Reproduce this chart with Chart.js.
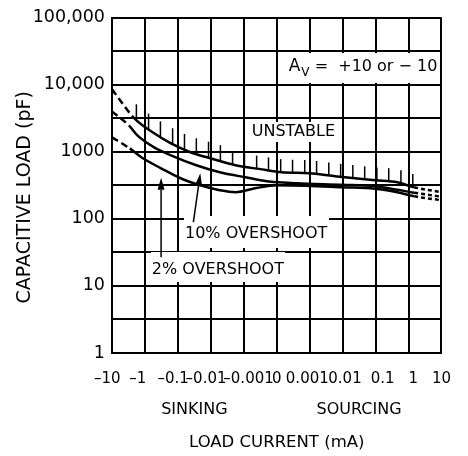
<!DOCTYPE html>
<html>
<head>
<meta charset="utf-8">
<script src="https://cdn.jsdelivr.net/npm/chart.js@4.4.1/dist/chart.umd.min.js"></script>
<style>
  html, body { margin: 0; padding: 0; background: #fff; }
  #wrap { width: 468px; height: 456px; }
</style>
</head>
<body>
<div id="wrap"><canvas id="chart"></canvas></div>
<script>
// x is in decades on the split log axis: -5 = -10 mA, 0 = 0 mA, +5 = +10 mA
const xTickLabels = ['–10', '–1', '–0.1', '–0.01', '–0.001', '0', '0.001', '0.01', '0.1', '1', '10'];
const sideTicks = [-2.5, 2.5];
const sideLabels = ['SINKING', 'SOURCING'];

// y is capacitive load in pF (log)
const yGridValues = [1, 3.162, 10, 31.62, 100, 316.2, 1000, 3162, 10000, 31620, 100000];
const yTickLabels = { 1: '1', 10: '10', 100: '100', 1000: '1000', 10000: '10,000', 100000: '100,000' };

// UNSTABLE boundary
const unstableX = [-5, -4.32, -3.72, -3.21, -2.62, -2.02, -1.25, -0.45, 0.15, 0.98, 1.99, 2.98, 3.66, 4.17, 5];
const unstableY = [8500, 3140, 1880, 1330, 980, 800, 630, 545, 495, 477, 420, 375, 350, 295, 249];

// 10% overshoot
const over10X = [-5, -4.46, -4.23, -3.72, -3.21, -2.44, -1.73, -0.95, -0.3, 0.6, 1.99, 2.98, 3.66, 4.17, 5];
const over10Y = [3990, 2390, 1750, 1160, 884, 628, 494, 416, 363, 339, 322, 306, 271, 245, 213];

// 2% overshoot
const over2X = [-5, -4.46, -4.11, -3.51, -2.92, -2.32, -1.73, -1.25, -0.66, 0, 0.89, 1.99, 2.98, 3.66, 4.17, 5];
const over2Y = [1640, 1120, 826, 566, 402, 316, 267, 249, 285, 316, 311, 295, 281, 249, 217, 189];

// hatch marks on the unstable side of the boundary
const hatchX = [-4.26, -3.89, -3.53, -3.16, -2.80, -2.44, -2.07, -1.71, -1.34, -0.98, -0.61, -0.25,
                0.12, 0.48, 0.85, 1.21, 1.58, 1.94, 2.31, 2.67, 3.04, 3.40, 3.77, 4.13];

const FONT = 'DejaVu Sans';
const INK = '#000';

// nudge crowded x labels with spaces, like the original run-together text
const xLabelNudge = { '–10': '  ', '–1': '   ', '–0.1': '  ', '–0.01': '  ', '0.001': ' ' };
const xLabelLead = { '–0.001': '  ', '0.01': ' ', '0.1': '   ', '1': '  ' };

function toPts(xs, ys) {
  return xs.map((x, i) => ({ x: x, y: ys[i] }));
}

function curve(label, xs, ys) {
  const last = xs.length - 1;
  return {
    label: label,
    data: toPts(xs, ys),
    borderColor: '#000',
    borderWidth: 2.5,
    pointRadius: 0,
    fill: false,
    cubicInterpolationMode: 'monotone',
    segment: {
      borderDash: ctx => ctx.p0DataIndex === 0 ? [7, 4] : (ctx.p1DataIndex === last ? [4, 3] : undefined)
    }
  };
}

// annotation boxes, in data units
const boxes = [
  { x0: 0, x1: 5, y0: 10000, y1: 31620 },
  { x0: -0.95, x1: 1.96, y0: 1288, y1: 2933 },
  { x0: -2.89, x1: 1.64, y0: 34.1, y1: 117 },
  { x0: -3.87, x1: 0.30, y0: 10.6, y1: 34.1 }
];
const boxText = [
  { box: 1, text: 'UNSTABLE', dy: 0 },
  { box: 2, text: '10% OVERSHOOT', dy: 2 },
  { box: 3, text: '2% OVERSHOOT', dy: 3 }
];
const arrows = [
  { from: [-2.53, 89], to: [-2.32, 477] },
  { from: [-3.51, 26.8], to: [-3.51, 410] }
];

function bez(p0, p1, p2, p3, t) {
  const u = 1 - t;
  return u * u * u * p0 + 3 * u * u * t * p1 + 3 * u * t * t * p2 + t * t * t * p3;
}

function curveYAt(points, x) {
  for (let i = 0; i < points.length - 1; i++) {
    const a = points[i], b = points[i + 1];
    if (x >= a.x && x <= b.x) {
      if (a.cp2x === undefined) return a.y + (b.y - a.y) * (x - a.x) / (b.x - a.x);
      let lo = 0, hi = 1, t = 0.5;
      for (let k = 0; k < 30; k++) {
        t = (lo + hi) / 2;
        if (bez(a.x, a.cp2x, b.cp1x, b.x, t) < x) lo = t; else hi = t;
      }
      return bez(a.y, a.cp2y, b.cp1y, b.y, t);
    }
  }
  return null;
}

function drawArrow(ctx, x0, y0, x1, y1) {
  const ang = Math.atan2(y1 - y0, x1 - x0);
  const L = 12, W = 3.5;
  const bx = x1 - L * Math.cos(ang), by = y1 - L * Math.sin(ang);
  ctx.beginPath();
  ctx.moveTo(x0, y0);
  ctx.lineTo(bx, by);
  ctx.stroke();
  ctx.beginPath();
  ctx.moveTo(x1, y1);
  ctx.lineTo(bx - W * Math.sin(ang), by + W * Math.cos(ang));
  ctx.lineTo(bx + W * Math.sin(ang), by - W * Math.cos(ang));
  ctx.closePath();
  ctx.fill();
}

const decor = {
  id: 'decor',
  beforeDatasetsDraw(chart) {
    const { ctx, scales: { x, y } } = chart;
    ctx.save();
    ctx.fillStyle = '#fff';
    boxes.forEach(b => {
      const l = Math.round(x.getPixelForValue(b.x0)) + 2;
      const r = Math.round(x.getPixelForValue(b.x1)) - 2;
      const t = Math.round(y.getPixelForValue(b.y1)) + 2;
      const btm = Math.round(y.getPixelForValue(b.y0)) - 2;
      ctx.fillRect(l, t, r - l, btm - t);
    });
    ctx.restore();
  },
  afterDatasetsDraw(chart) {
    const { ctx, scales: { x, y } } = chart;
    ctx.save();
    ctx.strokeStyle = '#000';
    ctx.fillStyle = '#000';

    // hatches
    const pts = chart.getDatasetMeta(0).data;
    ctx.lineWidth = 1.5;
    hatchX.forEach((hx, i) => {
      const px = x.getPixelForValue(hx);
      const py = curveYAt(pts, px);
      if (py === null) return;
      ctx.beginPath();
      ctx.moveTo(px, py);
      ctx.lineTo(px, py - (i < 8 ? 16 : 13));
      ctx.stroke();
    });

    // arrows
    ctx.lineWidth = 1.5;
    arrows.forEach(a => {
      drawArrow(ctx, x.getPixelForValue(a.from[0]), y.getPixelForValue(a.from[1]),
                x.getPixelForValue(a.to[0]), y.getPixelForValue(a.to[1]));
    });

    // box labels
    ctx.font = '16px "' + FONT + '"';
    ctx.textAlign = 'center';
    ctx.textBaseline = 'middle';
    boxText.forEach(bt => {
      const b = boxes[bt.box];
      const cx = (x.getPixelForValue(b.x0) + x.getPixelForValue(b.x1)) / 2;
      const cy = (y.getPixelForValue(b.y0) + y.getPixelForValue(b.y1)) / 2 + bt.dy;
      ctx.fillText(bt.text, cx, cy);
    });

    // A_V = +10 or -10
    const b0 = boxes[0];
    let tx = x.getPixelForValue(b0.x0) + 12;
    const base = (y.getPixelForValue(b0.y0) + y.getPixelForValue(b0.y1)) / 2 + 3;
    ctx.textAlign = 'left';
    ctx.textBaseline = 'alphabetic';
    ctx.font = '17px "' + FONT + '"';
    ctx.fillText('A', tx, base);
    tx += ctx.measureText('A').width + 1;
    ctx.font = '12px "' + FONT + '"';
    ctx.fillText('V', tx, base + 5);
    tx += ctx.measureText('V').width;
    ctx.font = '16px "' + FONT + '"';
    ctx.fillText(' =  +10 or \u2212 10', tx, base);
    ctx.restore();
  }
};

new Chart(document.getElementById('chart'), {
  type: 'line',
  data: {
    datasets: [
      curve('UNSTABLE', unstableX, unstableY),
      curve('10% OVERSHOOT', over10X, over10Y),
      curve('2% OVERSHOOT', over2X, over2Y)
    ]
  },
  options: {
    responsive: true,
    maintainAspectRatio: false,
    animation: false,
    events: [],
    layout: { padding: { top: 17, right: 20, left: 0, bottom: 0 } },
    plugins: {
      legend: { display: false },
      tooltip: { enabled: false }
    },
    scales: {
      x: {
        type: 'linear',
        position: 'bottom',
        weight: 0,
        min: -5,
        max: 5,
        grid: { color: INK, lineWidth: 2, drawTicks: false },
        border: { color: INK, width: 2 },
        ticks: {
          stepSize: 1,
          autoSkip: false,
          maxRotation: 0,
          padding: 17,
          color: '#000',
          font: { family: FONT, size: 15 },
          callback: v => {
            const lab = xTickLabels[Math.round(v) + 5];
            return (xLabelLead[lab] || '') + lab + (xLabelNudge[lab] || '');
          }
        },
        afterFit: s => { s.height = 40; }
      },
      x2: {
        type: 'linear',
        position: 'bottom',
        weight: 1,
        min: -5,
        max: 5,
        grid: { display: false, drawTicks: false },
        border: { display: false },
        afterBuildTicks: s => { s.ticks = sideTicks.map(v => ({ value: v })); },
        ticks: {
          autoSkip: false,
          maxRotation: 0,
          padding: 7,
          color: '#000',
          font: { family: FONT, size: 16 },
          callback: v => sideLabels[sideTicks.indexOf(v)]
        },
        title: {
          display: true,
          text: 'LOAD CURRENT (mA)',
          color: '#000',
          font: { family: FONT, size: 16.5 },
          padding: { top: 0, bottom: 3 }
        },
        afterFit: s => { s.height = 63; }
      },
      y: {
        type: 'logarithmic',
        min: 1,
        max: 100000,
        grid: { color: INK, lineWidth: 2, drawTicks: false },
        border: { color: INK, width: 2 },
        afterBuildTicks: s => { s.ticks = yGridValues.map(v => ({ value: v })); },
        ticks: {
          autoSkip: false,
          padding: 7,
          color: '#000',
          font: { family: FONT, size: 17.5 },
          callback: v => yTickLabels[v] || ''
        },
        title: {
          display: true,
          text: 'CAPACITIVE LOAD (pF)    ',
          color: '#000',
          font: { family: FONT, size: 19 },
          padding: { top: 14, bottom: 0 }
        },
        afterFit: s => { s.width = 112; }
      }
    }
  },
  plugins: [decor]
});
</script>
</body>
</html>
